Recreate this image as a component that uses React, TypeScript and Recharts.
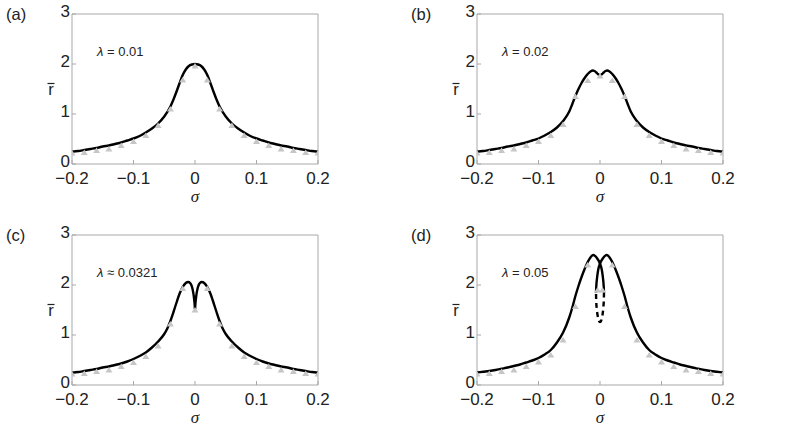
import React from "react";
import {
  ComposedChart,
  Line,
  Scatter,
  XAxis,
  YAxis,
  ReferenceArea,
} from "recharts";

// axis ticks
const sigmaTicks = [-0.2, -0.1, 0, 0.1, 0.2];
const rTicks = [0, 1, 2, 3];

// panel (a), lambda = 0.01
const sigmaA = [
  -0.2, -0.19, -0.18, -0.17, -0.16, -0.15, -0.14, -0.13, -0.12, -0.11, -0.1, -0.09, -0.08, -0.07, -0.06, -0.05,
  -0.04, -0.035, -0.03, -0.025, -0.02, -0.015, -0.01, -0.005, 0, 0.005, 0.01, 0.015, 0.02, 0.025, 0.03, 0.035, 0.04,
  0.05, 0.06, 0.07, 0.08, 0.09, 0.1, 0.11, 0.12, 0.13, 0.14, 0.15, 0.16, 0.17, 0.18, 0.19, 0.2,
];
const rA = [
  0.245, 0.26, 0.28, 0.3, 0.32, 0.35, 0.37, 0.4, 0.43, 0.47, 0.51, 0.56, 0.63, 0.71, 0.81, 0.95,
  1.15, 1.29, 1.45, 1.62, 1.78, 1.89, 1.96, 1.99, 2.0, 1.99, 1.96, 1.89, 1.78, 1.62, 1.45, 1.29, 1.15,
  0.95, 0.81, 0.71, 0.63, 0.56, 0.51, 0.47, 0.43, 0.4, 0.37, 0.35, 0.32, 0.3, 0.28, 0.26, 0.245,
];

// panel (b), lambda = 0.02
const sigmaB = [
  -0.2, -0.19, -0.18, -0.17, -0.16, -0.15, -0.14, -0.13, -0.12, -0.11, -0.1, -0.09, -0.08, -0.07, -0.06, -0.05,
  -0.045, -0.04, -0.035, -0.03, -0.025, -0.02, -0.015, -0.012, -0.009, -0.006, -0.003, 0, 0.003, 0.006, 0.009, 0.012,
  0.015, 0.02, 0.025, 0.03, 0.035, 0.04, 0.045, 0.05, 0.06, 0.07, 0.08, 0.09, 0.1, 0.11, 0.12, 0.13, 0.14, 0.15,
  0.16, 0.17, 0.18, 0.19, 0.2,
];
const rB = [
  0.245, 0.26, 0.28, 0.3, 0.32, 0.35, 0.37, 0.4, 0.43, 0.47, 0.51, 0.57, 0.64, 0.73, 0.86, 1.05,
  1.2, 1.36, 1.5, 1.62, 1.72, 1.8, 1.855, 1.87, 1.86, 1.83, 1.795, 1.78, 1.795, 1.83, 1.86, 1.87,
  1.855, 1.8, 1.72, 1.62, 1.5, 1.36, 1.2, 1.05, 0.86, 0.73, 0.64, 0.57, 0.51, 0.47, 0.43, 0.4, 0.37, 0.35,
  0.32, 0.3, 0.28, 0.26, 0.245,
];

// panel (c), lambda ~ 0.0321 (cusp at sigma = 0)
const sigmaCLeft = [
  -0.2, -0.19, -0.18, -0.17, -0.16, -0.15, -0.14, -0.13, -0.12, -0.11, -0.1, -0.09, -0.08, -0.07, -0.06, -0.05,
  -0.045, -0.04, -0.035, -0.03, -0.025, -0.02, -0.015, -0.011, -0.008, -0.006, -0.004, -0.002, -0.001, 0,
];
const rCLeft = [
  0.245, 0.26, 0.28, 0.3, 0.32, 0.35, 0.37, 0.4, 0.43, 0.47, 0.52, 0.58, 0.65, 0.75, 0.87, 1.02,
  1.13, 1.28, 1.46, 1.65, 1.83, 1.96, 2.04, 2.06, 2.04, 2.0, 1.92, 1.78, 1.67, 1.52,
];
const sigmaCRight = [
  0, 0.001, 0.002, 0.004, 0.006, 0.008, 0.011, 0.015, 0.02, 0.025, 0.03, 0.035, 0.04, 0.045, 0.05, 0.06,
  0.07, 0.08, 0.09, 0.1, 0.11, 0.12, 0.13, 0.14, 0.15, 0.16, 0.17, 0.18, 0.19, 0.2,
];
const rCRight = [
  1.52, 1.67, 1.78, 1.92, 2.0, 2.04, 2.06, 2.04, 1.96, 1.83, 1.65, 1.46, 1.28, 1.13, 1.02, 0.87,
  0.75, 0.65, 0.58, 0.52, 0.47, 0.43, 0.4, 0.37, 0.35, 0.32, 0.3, 0.28, 0.26, 0.245,
];

// panel (d), lambda = 0.05 (two stable branches + unstable dashed branch)
const sigmaDLeft = [
  -0.2, -0.19, -0.18, -0.17, -0.16, -0.15, -0.14, -0.13, -0.12, -0.11, -0.1, -0.09, -0.08, -0.07, -0.06, -0.05,
  -0.045, -0.04, -0.035, -0.03, -0.025, -0.02, -0.015, -0.011, -0.007, -0.004, 0, 0.003, 0.005, 0.006, 0.0065,
];
const rDLeft = [
  0.25, 0.265, 0.28, 0.3, 0.325, 0.35, 0.38, 0.41, 0.45, 0.49, 0.54, 0.61, 0.7, 0.85, 1.05, 1.35,
  1.55, 1.78, 1.98, 2.16, 2.32, 2.46, 2.56, 2.6, 2.57, 2.52, 2.43, 2.3, 2.12, 1.98, 1.85,
];
const sigmaDRight = [
  -0.0065, -0.006, -0.005, -0.003, 0, 0.004, 0.007, 0.011, 0.015, 0.02, 0.025, 0.03, 0.035, 0.04, 0.045, 0.05,
  0.06, 0.07, 0.08, 0.09, 0.1, 0.11, 0.12, 0.13, 0.14, 0.15, 0.16, 0.17, 0.18, 0.19, 0.2,
];
const rDRight = [
  1.85, 1.98, 2.12, 2.3, 2.43, 2.52, 2.57, 2.6, 2.56, 2.46, 2.32, 2.16, 1.98, 1.78, 1.55, 1.35,
  1.05, 0.85, 0.7, 0.61, 0.54, 0.49, 0.45, 0.41, 0.38, 0.35, 0.325, 0.3, 0.28, 0.265, 0.25,
];
const sigmaDUnstable = [0.0065, 0.0062, 0.0055, 0.004, 0.002, 0, -0.002, -0.004, -0.0055, -0.0062, -0.0065];
const rDUnstable = [1.85, 1.7, 1.55, 1.4, 1.29, 1.26, 1.29, 1.4, 1.55, 1.7, 1.85];

// simulation markers
const markerSigma = [
  -0.2, -0.18, -0.16, -0.14, -0.12, -0.1, -0.08, -0.06, -0.04, -0.02, 0, 0.02, 0.04, 0.06, 0.08, 0.1, 0.12, 0.14,
  0.16, 0.18, 0.2,
];
const markersA = [0.22, 0.23, 0.27, 0.3, 0.37, 0.45, 0.57, 0.77, 1.1, 1.68, 1.96, 1.68, 1.1, 0.77, 0.57, 0.45, 0.37, 0.3, 0.27, 0.23, 0.22];
const markersB = [0.22, 0.23, 0.27, 0.3, 0.37, 0.45, 0.57, 0.79, 1.35, 1.67, 1.76, 1.67, 1.35, 0.79, 0.57, 0.45, 0.37, 0.3, 0.27, 0.23, 0.22];
const markersC = [0.22, 0.23, 0.27, 0.3, 0.37, 0.45, 0.57, 0.78, 1.22, 1.93, 1.5, 1.93, 1.22, 0.78, 0.57, 0.45, 0.37, 0.3, 0.27, 0.23, 0.22];
const markerSigmaD = [
  -0.2, -0.18, -0.16, -0.14, -0.12, -0.1, -0.08, -0.06, -0.04, -0.02, -0.004, 0.004, 0.02, 0.04, 0.06, 0.08, 0.1,
  0.12, 0.14, 0.16, 0.18, 0.2,
];
const markersD = [0.22, 0.23, 0.27, 0.3, 0.37, 0.46, 0.6, 0.9, 1.57, 2.4, 1.9, 1.9, 2.4, 1.57, 0.9, 0.6, 0.46, 0.37, 0.3, 0.27, 0.23, 0.22];

const zip = (s: number[], r: number[]) => s.map((x, i) => ({ s: x, r: r[i] }));

const FRAME = "#a8a8a8";
const INK = "#222";
const SANS = "'Liberation Sans', Arial, sans-serif";
const TICK_FONT = 17;

const Tri = (p: any) => (
  <polygon
    points={`${p.cx - 3.5},${p.cy + 2.5} ${p.cx + 3.5},${p.cy + 2.5} ${p.cx},${p.cy - 3}`}
    fill="#c6c6c6"
  />
);

const fmtSigma = (v: number) => (v === 0 ? "0" : (v < 0 ? "\u2212" : "") + Math.abs(v));

// y tick labels sit a touch above the tick, as in the original
const YTick = (p: any) => (
  <text x={p.x} y={p.y - 3} dy="0.355em" textAnchor="end" fontSize={TICK_FONT} fill={INK} fontFamily={SANS}>
    {p.payload.value}
  </text>
);

type Curve = { data: { s: number; r: number }[]; dashed?: boolean; smooth?: boolean };

function Panel({
  left,
  top,
  height,
  tag,
  lambda,
  curves,
  markers,
}: {
  left: number;
  top: number;
  height: number;
  tag: string;
  lambda: string;
  curves: Curve[];
  markers: { s: number; r: number }[];
}) {
  const width = 340;
  const plotLeft = 72;
  const plotTop = 14;
  const plotBottom = 164;
  return (
    <div style={{ position: "absolute", left, top, width, height }}>
      <ComposedChart width={width} height={height} margin={{ top: plotTop, right: 22, bottom: 0, left: 0 }}>
        <XAxis
          dataKey="s"
          type="number"
          domain={[-0.2, 0.2]}
          ticks={sigmaTicks}
          tickFormatter={fmtSigma}
          height={height - plotBottom}
          axisLine={false}
          tickSize={-4}
          tickMargin={12}
          tickLine={{ stroke: FRAME }}
          tick={{ fontSize: TICK_FONT, fill: INK, fontFamily: SANS }}
          allowDataOverflow
        />
        <YAxis
          dataKey="r"
          type="number"
          domain={[0, 3]}
          ticks={rTicks}
          width={plotLeft}
          axisLine={false}
          tickSize={-4}
          tickMargin={6}
          tickLine={{ stroke: FRAME }}
          tick={<YTick />}
          allowDataOverflow
        />
        <ReferenceArea x1={-0.2} x2={0.2} y1={0} y2={3} fill="none" stroke={FRAME} strokeWidth={1} ifOverflow="visible" />
        <Scatter data={markers} shape={<Tri />} isAnimationActive={false} />
        {curves.map((c, i) => (
          <Line
            key={i}
            data={c.data}
            dataKey="r"
            type={c.smooth ? "natural" : "monotone"}
            stroke="#000"
            strokeWidth={2.4}
            strokeDasharray={c.dashed ? "5 4" : undefined}
            dot={false}
            activeDot={false}
            isAnimationActive={false}
          />
        ))}
      </ComposedChart>
      <svg
        width={width}
        height={height}
        style={{ position: "absolute", left: 0, top: 0, pointerEvents: "none" }}
      >
        <text x={6} y={19.5} fontSize={16.5} fill={INK} fontFamily={SANS}>
          {tag}
        </text>
        <text x={97} y={plotTop + 42} fontSize={13} fill={INK} fontFamily={SANS}>
          <tspan fontStyle="italic">λ</tspan>
          {" " + lambda}
        </text>
        <text x={51} y={94.5} fontSize={16.5} fill={INK} fontFamily={SANS} textAnchor="middle">
          r
        </text>
        <line x1={47.5} x2={54.5} y1={83.5} y2={83.5} stroke={INK} strokeWidth={1.2} />
        <text
          x={plotLeft + 123}
          y={plotBottom + 38}
          fontSize={17}
          fill={INK}
          fontFamily="'Liberation Serif', 'Times New Roman', serif"
          fontStyle="italic"
          textAnchor="middle"
        >
          σ
        </text>
      </svg>
    </div>
  );
}

export default function App() {
  return (
    <div style={{ position: "absolute", left: 0, top: 0, width: 789, height: 443, background: "#fff" }}>
      <Panel
        left={0}
        top={0}
        height={221}
        tag="(a)"
        lambda="= 0.01"
        curves={[{ data: zip(sigmaA, rA) }]}
        markers={zip(markerSigma, markersA)}
      />
      <Panel
        left={405}
        top={0}
        height={221}
        tag="(b)"
        lambda="= 0.02"
        curves={[{ data: zip(sigmaB, rB) }]}
        markers={zip(markerSigma, markersB)}
      />
      <Panel
        left={0}
        top={221}
        height={222}
        tag="(c)"
        lambda="≈ 0.0321"
        curves={[{ data: zip(sigmaCLeft, rCLeft) }, { data: zip(sigmaCRight, rCRight) }]}
        markers={zip(markerSigma, markersC)}
      />
      <Panel
        left={405}
        top={221}
        height={222}
        tag="(d)"
        lambda="= 0.05"
        curves={[
          { data: zip(sigmaDLeft, rDLeft) },
          { data: zip(sigmaDRight, rDRight) },
          { data: zip(sigmaDUnstable, rDUnstable), dashed: true, smooth: true },
        ]}
        markers={zip(markerSigmaD, markersD)}
      />
    </div>
  );
}
